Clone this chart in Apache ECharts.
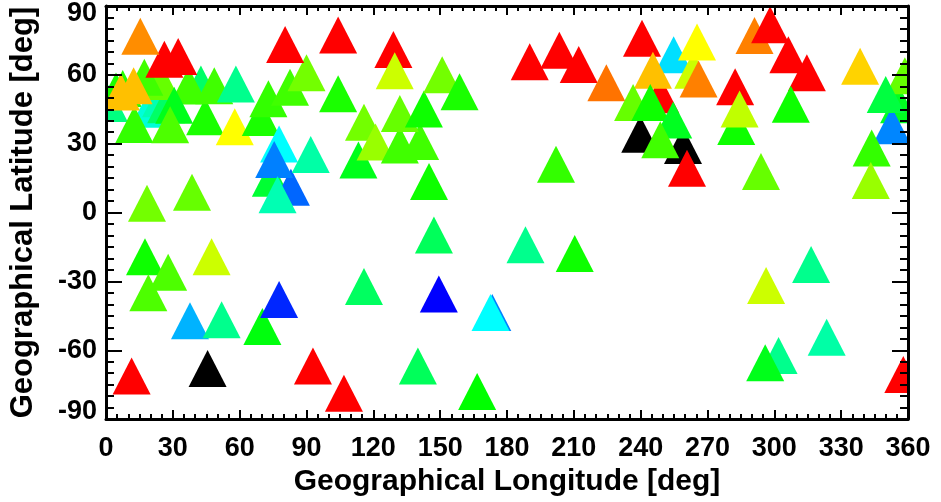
<!DOCTYPE html>
<html>
<head>
<meta charset="utf-8">
<script src="https://cdn.jsdelivr.net/npm/echarts@6/dist/echarts.min.js"></script>
<style>html,body{margin:0;padding:0;background:#fff;}#c{width:941px;height:502px;}</style>
</head>
<body>
<div id="c"></div>
<script>
// Longitude [deg], latitude [deg] and colour level (0 = black ... 9 = red), drawn in this order
const lon = [
  1.3, 4.5, 7.5, 19.3, 24.7, 27, 24.7, 17.2, 42.6, 37.1, 30.6, 12.7, 28.8, 44.5, 48.6, 58.3, 57.8,
  26.2, 32.4, 12.4, 6.7, 15.4,
  69.5, 72.9, 82.6, 90, 80.4, 104.2, 104.2, 74, 83, 77.7, 75.5, 77, 91.9, 113.3, 115.8, 121,
  131.9, 141, 131.9, 142.7, 129, 129.6, 150.9, 158.7, 145,
  190.2, 203.5, 212.2, 224.6, 202,
  239.8, 259, 248.8, 240.6, 254.8, 263.6, 245.5, 265.3, 266, 236.6, 244.3, 254.6, 248.8, 260.8,
  291.1, 298.1, 306.3, 314.6, 282.4, 282.9, 284.4, 307.4, 294,
  338.5, 356, 358.6, 352.7, 350, 343.7, 343.3,
  18.4, 38.6, 17.5, 27.9, 19, 47.4, 37.7, 51.9, 70.2, 77.7, 115.8, 11.5, 45.6, 92.9, 106.8,
  147.2, 188.3, 210.4, 149.4, 173.4, 172.6, 140, 166.6,
  296.3, 316.5, 323.5, 301.9, 295.9, 357.9
];
const lat = [
  47.5, 53, 54, 45, 49.6, 47, 57.1, 58.9, 56, 55.1, 46.7, 38.4, 38.3, 41.7, 55.3, 56, 37.4,
  66.8, 68, 55.3, 52.5, 76.8,
  41.4, 49.6, 54.6, 60.9, 73.2, 77.4, 51.8, 15, 11, 29.9, 23.1, 7.8, 25.3, 22.9, 39.3, 30.7,
  29.4, 31, 43.2, 45.1, 71, 61.8, 60, 52.6, 13.5,
  65.7, 70.7, 64.5, 56.6, 21,
  34.1, 29.2, 51.3, 76, 68.8, 62, 62, 74.3, 58.2, 48, 47.9, 40.3, 31.7, 19.3,
  77.2, 81.8, 68.8, 60.9, 54.8, 37.5, 45.1, 47.2, 17.9,
  63.8, 47, 59.6, 37.8, 51.4, 28.1, 14,
  4, 8.8, -19.3, -26, -34.9, -19.3, -47.2, -46.7, -49.7, -37.9, -32.2, -71.2, -68, -66.9, -78.7,
  -9.8, -14, -17.8, -35.5, -43.6, -43.5, -66.9, -78,
  -31.8, -22.6, -54.3, -62.3, -65.4, -70.6
];
const level = [
  4.0, 5.2, 5.3, 3.3, 3.6, 4.2, 5.8, 5.5, 4.2, 5.5, 4.8, 5.4, 5.6, 5.2, 5.5, 3.9, 7.0,
  9, 9, 7.5, 7.5, 7.9,
  5.2, 5.4, 5.5, 5.9, 9, 9, 5.2, 4.6, 1.8, 3.0, 2.0, 3.6, 3.7, 4.8, 5.9, 6.2,
  5.5, 5.5, 5.8, 5.1, 9, 6.6, 5.9, 5.2, 5.1,
  9, 9, 9, 8.1, 5.4,
  0, 0, 9, 9, 2.75, 6.6, 7.5, 7.0, 8.0, 5.8, 5.1, 4.75, 5.5, 9,
  8.0, 9, 9, 9, 9, 5.1, 6.5, 5.1, 5.8,
  7.35, 4.75, 5.8, 2.05, 4.5, 5.4, 6.2,
  5.9, 5.8, 5.1, 5.6, 5.6, 6.6, 2.4, 3.9, 4.9, 1.3, 4.25, 9, 0, 9, 9,
  4.3, 3.9, 5.1, 1.0, 2.0, 3.0, 4.3, 5.0,
  6.6, 3.9, 3.7, 3.9, 4.8, 9
];
const xTicks = [0, 30, 60, 90, 120, 150, 180, 210, 240, 270, 300, 330, 360];
const yTicks = [-90, -60, -30, 0, 30, 60, 90];

const points = lon.map((v, i) => [v, lat[i], level[i]]);

const FONT = 'Liberation Sans, Arial, Helvetica, sans-serif';
const tickFont = { fontFamily: FONT, fontWeight: 'bold', fontSize: 27, color: '#000' };

function xAxisCfg(pos, showLabel) {
  return {
    type: 'value', position: pos, min: xTicks[0], max: xTicks[xTicks.length - 1],
    interval: xTicks[1] - xTicks[0], z: 3,
    axisLine: { show: true, onZero: false, lineStyle: { color: '#000', width: 3 } },
    axisTick: { show: true, inside: true, length: 9, lineStyle: { color: '#000', width: 2 } },
    minorTick: { show: true, splitNumber: 6, length: 5, lineStyle: { color: '#000', width: 2 } },
    splitLine: { show: false },
    axisLabel: Object.assign({ show: showLabel, margin: 16 }, tickFont),
    name: showLabel ? 'Geographical Longitude [deg]' : '',
    nameLocation: 'middle', nameGap: 45,
    nameTextStyle: { fontFamily: FONT, fontWeight: 'bold', fontSize: 30, color: '#000' }
  };
}
function yAxisCfg(pos, showLabel) {
  const r = Object.assign({}, tickFont);
  return {
    type: 'value', position: pos, min: yTicks[0], max: yTicks[yTicks.length - 1],
    interval: yTicks[1] - yTicks[0], z: 3,
    axisLine: { show: true, onZero: false, lineStyle: { color: '#000', width: 3 } },
    axisTick: { show: true, inside: true, length: 16, lineStyle: { color: '#000', width: 2 } },
    minorTick: { show: true, splitNumber: 6, length: 8, lineStyle: { color: '#000', width: 2 } },
    splitLine: { show: false },
    axisLabel: Object.assign({
      show: showLabel, margin: 9,
      formatter: v => v === yTicks[yTicks.length - 1] ? '{t|' + v + '}' : (v === yTicks[0] ? '{b|' + v + '}' : '{n|' + v + '}'),
      rich: {
        t: Object.assign({ padding: [16, 0, 0, 0] }, r),
        b: Object.assign({ padding: [0, 0, 16, 0] }, r),
        n: Object.assign({}, r)
      }
    }, tickFont),
    name: showLabel ? 'Geographical Latitude [deg]' : '',
    nameLocation: 'middle', nameGap: 67,
    nameTextStyle: { fontFamily: FONT, fontWeight: 'bold', fontSize: 31, color: '#000' }
  };
}

const chart = echarts.init(document.getElementById('c'), null, { renderer: 'canvas' });
chart.setOption({
  backgroundColor: '#fff',
  animation: false,
  grid: { left: 105, right: 33, top: 6, bottom: 77, containLabel: false },
  xAxis: [xAxisCfg('bottom', true), xAxisCfg('top', false)],
  yAxis: [yAxisCfg('left', true), yAxisCfg('right', false)],
  visualMap: {
    show: false, type: 'continuous', seriesIndex: 0, dimension: 2, min: 0, max: 9,
    inRange: { color: ['#000000', '#0000ff', '#0080ff', '#00ffff', '#00ff80', '#00ff00', '#80ff00', '#ffff00', '#ff8000', '#ff0000'] }
  },
  series: [{
    type: 'custom',
    clip: true,
    xAxisIndex: 0, yAxisIndex: 0,
    encode: { x: 0, y: 1 },
    data: points,
    renderItem: function (params, api) {
      const p = api.coord([api.value(0), api.value(1)]);
      const w = 38, h = 37;
      return {
        type: 'polygon',
        shape: { points: [[p[0] - w / 2, p[1] + h / 2], [p[0] + w / 2, p[1] + h / 2], [p[0], p[1] - h / 2]] },
        style: { fill: api.visual('color') }
      };
    }
  }]
});
</script>
</body>
</html>
